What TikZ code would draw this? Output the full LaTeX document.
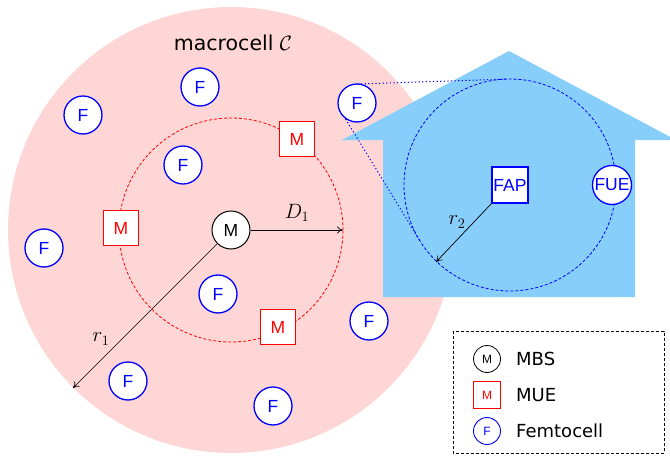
\documentclass[tikz,border=0pt]{standalone}
\usepackage{fontspec}
\setsansfont{DejaVu Sans}
\newfontfamily\nodefont{Liberation Sans}
\usetikzlibrary{arrows.meta}
\definecolor{pinkc}{RGB}{255,214,214}
\definecolor{housec}{RGB}{135,206,250}
\begin{document}
\begin{tikzpicture}[x=1pt,y=-1pt,
  lbl/.style={font=\nodefont\fontsize{17.5}{18}\selectfont,inner sep=0pt},
  fnode/.style={lbl,circle,draw=blue,line width=1.3pt,fill=white,text=blue,minimum size=38pt},
  mue/.style={lbl,rectangle,draw=red,line width=1.3pt,fill=white,text=red,minimum size=35pt},
  mbs/.style={lbl,circle,draw=black,line width=1pt,fill=white,text=black,minimum size=38pt},
  legf/.style={fnode,line width=0.9pt,minimum size=27pt,font=\nodefont\fontsize{12}{12}\selectfont},
  legm/.style={mue,line width=0.9pt,minimum size=27pt,font=\nodefont\fontsize{12}{12}\selectfont},
  legb/.style={mbs,line width=0.8pt,minimum size=27pt,font=\nodefont\fontsize{12}{12}\selectfont},
  legtxt/.style={anchor=west,inner sep=0pt,font=\sffamily\fontsize{18}{18}\selectfont},
  mathlbl/.style={inner sep=0pt,font=\fontsize{22}{22}\selectfont},
  arr/.style={-{To[length=6pt,width=7pt]},line width=0.7pt},
  tang/.style={blue,line width=1pt,dash pattern=on 1.2pt off 2.4pt}
]
\useasboundingbox (0,0) rectangle (670,460);
% macrocell
\fill[pinkc] (231,230) circle (223pt);
\draw[red,line width=0.8pt,dash pattern=on 3pt off 2pt] (231,230) circle (112pt);
\node[inner sep=0pt,font=\sffamily\fontsize{20.5}{21}\selectfont] (mc) at (233,43) {macrocell $\mathcal{C}$};
% house
\fill[housec] (342,140) -- (509,51) -- (676,140) -- (635,140) -- (635,297) -- (383,297) -- (383,140) -- cycle;
\draw[blue,line width=0.8pt,dash pattern=on 3pt off 2pt] (510,185) circle (106pt);
% tangent lines
\coordinate (ta) at (357.4,84.0);
\coordinate (tb) at (506.4,79.1);
\coordinate (tc) at (341.8,112.9);
\coordinate (td) at (419.5,240.1);
\draw[tang] (ta) -- (tb);
\draw[tang] (tc) -- (td);
% arrows
\node[mbs] (mbs) at (231,230) {M};
\coordinate (d1e) at (343,230);
\coordinate (r1e) at (73,388);
\draw[arr] (mbs) -- (d1e);
\draw[arr] (mbs) -- (r1e);
\node[mathlbl] (d1) at (297,213) {$D_1$};
\node[mathlbl] (r1) at (101,339) {$r_1$};
\node[lbl,rectangle,draw=blue,line width=1.3pt,fill=white,text=blue,minimum size=36pt] (fap) at (510,185) {FAP};
\node[lbl,circle,draw=blue,line width=1.3pt,fill=white,text=blue,minimum size=39pt] (fue) at (612,185) {FUE};
\coordinate (r2e) at (436,262);
\draw[arr] (fap.south west) -- (r2e);
\node[mathlbl] (r2) at (457,222) {$r_2$};
% femtocells
\node[fnode] (f1) at (83,115) {F};
\node[fnode] (f2) at (200,87) {F};
\node[fnode] (f3) at (183,165) {F};
\node[fnode] (f4) at (44,248) {F};
\node[fnode] (f5) at (218,294) {F};
\node[fnode] (f6) at (128,381) {F};
\node[fnode] (f7) at (273,406) {F};
\node[fnode] (f8) at (369,321) {F};
\node[fnode] (f9) at (357,103) {F};
% MUEs
\node[mue] (m1) at (297,139) {M};
\node[mue] (m2) at (121,228) {M};
\node[mue] (m3) at (278,327) {M};
% legend
\draw[line width=0.7pt,dash pattern=on 3pt off 2pt] (453,331) rectangle (664,453);
\node[legb] (lb) at (487,359) {M};
\node[legm] (lm) at (487,395) {M};
\node[legf] (lf) at (487,431) {F};
\node[legtxt] (tb1) at (516,359) {MBS};
\node[legtxt] (tb2) at (516,395) {MUE};
\node[legtxt] (tb3) at (516,431) {Femtocell};
\end{tikzpicture}
\end{document}
